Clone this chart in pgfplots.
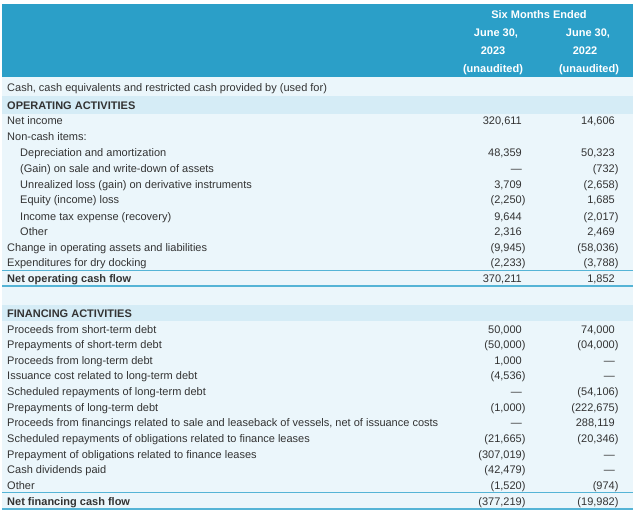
\documentclass[border=0pt]{standalone}
\usepackage{fontspec}
\setmainfont{Liberation Sans}
\usepackage{pgfplots}
\pgfplotsset{compat=1.18}
\definecolor{headblue}{RGB}{43,159,200}
\definecolor{lightbg}{RGB}{235,246,251}
\definecolor{bandbg}{RGB}{213,236,246}
\definecolor{rulec}{RGB}{85,180,214}
\definecolor{txt}{RGB}{51,51,51}

\pgfplotsset{
    cell/.style={draw=none, mark=none, point meta=explicit symbolic,
        nodes near coords={\pgfplotspointmeta},
        nodes near coords align={anchor=#1},
        every node near coord/.append style={inner sep=0pt, text height=10pt, text depth=2pt,
            font=\fontsize{11}{13}\selectfont, text=txt}},
}

\begin{document}
\begin{tikzpicture}
\begin{axis}[
    scale only axis, width=640pt, height=516pt,
    xmin=0, xmax=640, ymin=0, ymax=516, y dir=reverse,
    enlargelimits=false, hide axis, clip=false,
]
% keep the whole 640x516 area in the picture
\addplot[draw=none, mark=none] coordinates {(0,0) (640,516)};
% backgrounds
\addplot[fill=headblue, draw=none] coordinates {(2,4) (633,4) (633,77) (2,77)} -- cycle;
\addplot[fill=lightbg, draw=none] coordinates {(2,77) (633,77) (633,510) (2,510)} -- cycle;
\addplot[fill=bandbg, draw=none] coordinates {(2,96) (633,96) (633,114) (2,114)} -- cycle;
\addplot[fill=bandbg, draw=none] coordinates {(2,305) (633,305) (633,321) (2,321)} -- cycle;
% rules
\addplot[rulec, line width=1.4pt] coordinates {(2,270.5) (633,270.5)};
\addplot[rulec, line width=1.4pt] coordinates {(2,286) (633,286)};
\addplot[rulec, line width=1.4pt] coordinates {(2,492.5) (633,492.5)};
\addplot[rulec, line width=1.4pt] coordinates {(2,509) (633,509)};

% header
\addplot[cell=center, every node near coord/.append style={text=white, font=\fontsize{11}{13}\selectfont\bfseries}] coordinates {
(539,15) [Six Months Ended]
(496,33) [June 30,]
(588,33) [June 30,]
(493,51) [2023]
(585,51) [2022]
(493,69) [(unaudited)]
(589,69) [(unaudited)]
};

% row labels
\addplot[cell=west] coordinates {
(7,88) [Cash, cash equivalents and restricted cash provided by (used for)]
(7,121) [Net income]
(7,137) [Non-cash items:]
(20,153) [Depreciation and amortization]
(20,168) [(Gain) on sale and write-down of assets]
(20,184) [Unrealized loss (gain) on derivative instruments]
(20,200) [Equity (income) loss]
(20,216) [Income tax expense (recovery)]
(20,231) [Other]
(7,247) [Change in operating assets and liabilities]
(7,262) [Expenditures for dry docking]
(7,329) [Proceeds from short-term debt]
(7,344) [Prepayments of short-term debt]
(7,360) [Proceeds from long-term debt]
(7,375) [Issuance cost related to long-term debt]
(7,391) [Scheduled repayments of long-term debt]
(7,407) [Prepayments of long-term debt]
(7,422) [Proceeds from financings related to sale and leaseback of vessels, net of issuance costs]
(7,438) [Scheduled repayments of obligations related to finance leases]
(7,454) [Prepayment of obligations related to finance leases]
(7,469) [Cash dividends paid]
(7,485) [Other]
};
\addplot[cell=west, every node near coord/.append style={font=\fontsize{11}{13}\selectfont\bfseries}] coordinates {
(7,105.5) [OPERATING ACTIVITIES]
(7,278) [Net operating cash flow]
(7,313) [FINANCING ACTIVITIES]
(7,501) [Net financing cash flow]
};

% 2023
\addplot[cell=east] coordinates {
(522,121) [320,611]
(522,153) [48,359]
(522,168) [—]
(522,184) [3,709]
(522,200) [(2,250\rlap{)}]
(522,216) [9,644]
(522,231) [2,316]
(522,247) [(9,945\rlap{)}]
(522,262) [(2,233\rlap{)}]
(522,278) [370,211]
(522,329) [50,000]
(522,344) [(50,000\rlap{)}]
(522,360) [1,000]
(522,375) [(4,536\rlap{)}]
(522,391) [—]
(522,407) [(1,000\rlap{)}]
(522,422) [—]
(522,438) [(21,665\rlap{)}]
(522,454) [(307,019\rlap{)}]
(522,469) [(42,479\rlap{)}]
(522,485) [(1,520\rlap{)}]
(522,501) [(377,219\rlap{)}]
};

% 2022
\addplot[cell=east] coordinates {
(615,121) [14,606]
(615,153) [50,323]
(615,168) [(732\rlap{)}]
(615,184) [(2,658\rlap{)}]
(615,200) [1,685]
(615,216) [(2,017\rlap{)}]
(615,231) [2,469]
(615,247) [(58,036\rlap{)}]
(615,262) [(3,788\rlap{)}]
(615,278) [1,852]
(615,329) [74,000]
(615,344) [(04,000\rlap{)}]
(615,360) [—]
(615,375) [—]
(615,391) [(54,106\rlap{)}]
(615,407) [(222,675\rlap{)}]
(615,422) [288,119]
(615,438) [(20,346\rlap{)}]
(615,454) [—]
(615,469) [—]
(615,485) [(974\rlap{)}]
(615,501) [(19,982\rlap{)}]
};
\end{axis}
\end{tikzpicture}
\end{document}
